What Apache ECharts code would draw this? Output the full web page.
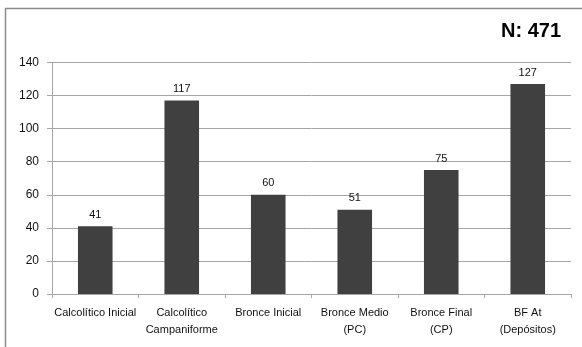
<!DOCTYPE html>
<html>
<head>
<meta charset="utf-8">
<style>
  html, body { margin: 0; padding: 0; background: #fff; }
  #chart { width: 582px; height: 347px; }
</style>
<script src="https://cdn.jsdelivr.net/npm/echarts@6/dist/echarts.min.js"></script>
</head>
<body>
<div id="chart"></div>
<script>
// Finds per period
const categories = [
  'Calcolítico Inicial',
  'Calcolítico\nCampaniforme',
  'Bronce Inicial',
  'Bronce Medio\n(PC)',
  'Bronce Final\n(CP)',
  'BF At\n(Depósitos)'
];
const counts = [41, 117, 60, 51, 75, 127];
const yTicks = { min: 0, max: 140, interval: 20 };
const totalLabel = 'N: 471';

const font = '"Liberation Sans", Arial, sans-serif';
const grey = '#a6a6a6';

const chart = echarts.init(document.getElementById('chart'), null, { renderer: 'canvas' });
chart.setOption({
  animation: false,
  backgroundColor: '#ffffff',
  grid: { left: 52, right: 11, top: 62.5, bottom: 53, containLabel: false },
  graphic: [
    {
      type: 'rect',
      shape: { x: 5.5, y: 8.5, width: 700, height: 500 },
      style: { fill: 'none', stroke: '#8c8c8c', lineWidth: 1.5 },
      silent: true
    },
    {
      type: 'text',
      right: 21,
      top: 21,
      style: {
        text: totalLabel,
        font: 'bold 20px ' + font,
        fill: '#000'
      }
    }
  ],
  xAxis: {
    type: 'category',
    data: categories,
    axisLine: { lineStyle: { color: grey, width: 1 } },
    axisTick: { show: true, length: 4, lineStyle: { color: grey } },
    axisLabel: {
      color: '#111',
      fontFamily: font,
      fontSize: 11,
      lineHeight: 17,
      margin: 10,
      interval: 0
    }
  },
  yAxis: {
    type: 'value',
    min: yTicks.min,
    max: yTicks.max,
    interval: yTicks.interval,
    axisLine: { show: true, lineStyle: { color: grey, width: 1 } },
    axisTick: { show: true, length: 5, lineStyle: { color: grey } },
    splitLine: { lineStyle: { color: grey, width: 1 } },
    axisLabel: {
      color: '#111',
      fontFamily: font,
      fontSize: 12,
      margin: 13
    }
  },
  series: [{
    type: 'bar',
    data: counts,
    barWidth: '40%',
    itemStyle: { color: '#404040' },
    label: {
      show: true,
      position: 'top',
      distance: 6,
      color: '#111',
      fontFamily: font,
      fontSize: 11
    }
  }]
});
</script>
</body>
</html>
